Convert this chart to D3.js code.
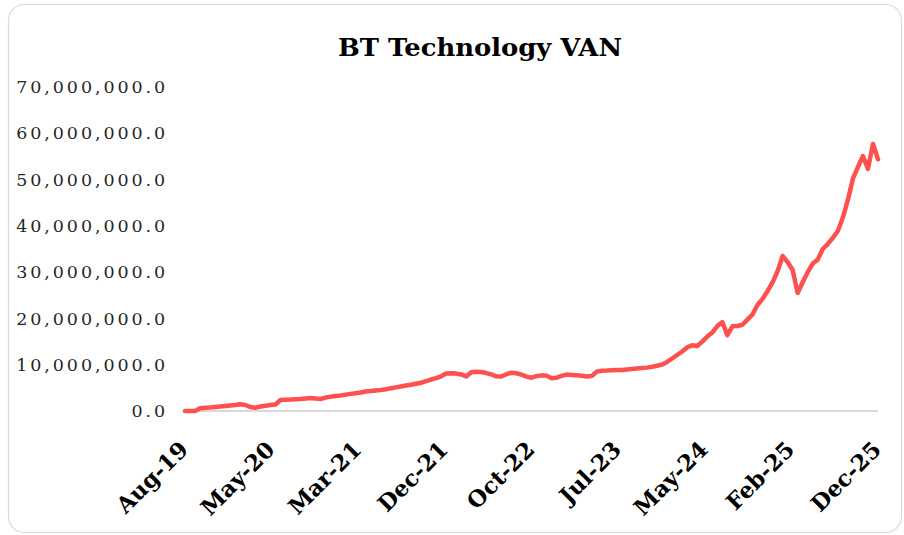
<!DOCTYPE html>
<html>
<head>
<meta charset="utf-8">
<title>BT Technology VAN</title>
<script src="https://cdn.jsdelivr.net/npm/d3@7"></script>
<style>
  body { margin: 0; background: #fff; }
  svg { display: block; }
</style>
</head>
<body>
<svg id="chart" width="904" height="535"></svg>
<script>
  // VAN in millions, one point per equally spaced observation (Aug-19 .. Dec-25)
  const vanMillions = [
    0.0, 0.0, 0.0, 0.6, 0.7, 0.76, 0.86, 0.97, 1.08, 1.2,
    1.3, 1.45, 1.3, 0.86, 0.7, 0.97, 1.15, 1.3, 1.38, 2.38,
    2.44, 2.48, 2.55, 2.6, 2.7, 2.8, 2.7, 2.6, 2.9, 3.1,
    3.24, 3.35, 3.54, 3.7, 3.84, 4.0, 4.2, 4.3, 4.45, 4.54,
    4.7, 4.9, 5.1, 5.3, 5.5, 5.66, 5.87, 6.1, 6.44, 6.8,
    7.1, 7.5, 8.1, 8.16, 8.08, 7.9, 7.47, 8.36, 8.47, 8.42,
    8.2, 7.9, 7.5, 7.45, 7.95, 8.27, 8.16, 7.86, 7.43, 7.2,
    7.54, 7.7, 7.6, 7.08, 7.2, 7.6, 7.86, 7.8, 7.73, 7.6,
    7.45, 7.56, 8.5, 8.7, 8.75, 8.83, 8.86, 8.86, 8.96, 9.07,
    9.18, 9.27, 9.37, 9.55, 9.78, 10.04, 10.6, 11.34, 12.1, 12.85,
    13.74, 14.2, 14.04, 15.0, 16.07, 16.95, 18.36, 19.2, 16.4, 18.3,
    18.36, 18.64, 19.74, 20.84, 22.9, 24.2, 25.9, 27.8, 30.2, 33.5,
    32.2, 30.45, 25.5, 27.8, 30.0, 31.86, 32.7, 35.0, 36.07, 37.4,
    38.9, 41.8, 45.6, 50.2, 52.7, 55.1, 52.3, 57.7, 54.4
  ];
  const xTickLabels = ["Aug-19", "May-20", "Mar-21", "Dec-21", "Oct-22", "Jul-23", "May-24", "Feb-25", "Dec-25"];
  const yTicks = [0, 10000000, 20000000, 30000000, 40000000, 50000000, 60000000, 70000000];

  const van = vanMillions.map(v => v * 1e6);

  const svg = d3.select("#chart");

  // chart area frame
  svg.append("rect")
    .attr("x", 8.5).attr("y", 4.5)
    .attr("width", 893).attr("height", 528)
    .attr("rx", 16)
    .attr("fill", "#fff")
    .attr("stroke", "#d9d9d9")
    .attr("stroke-width", 1.2);

  const x = d3.scaleLinear()
    .domain([0, van.length - 1])
    .range([185, 878]);

  const y = d3.scaleLinear()
    .domain([0, 70000000])
    .range([411, 87]);

  const fmt = d3.format(",.1f");

  svg.append("text")
    .attr("x", 480)
    .attr("y", 56)
    .attr("text-anchor", "middle")
    .attr("textLength", 284)
    .attr("lengthAdjust", "spacingAndGlyphs")
    .style("font-family", "'DejaVu Serif', serif")
    .style("font-weight", "bold")
    .style("font-size", "25px")
    .attr("fill", "#000")
    .text("BT Technology VAN");

  // y axis labels, no line
  const yAxis = svg.append("g")
    .attr("transform", "translate(168,0)")
    .call(d3.axisLeft(y).tickValues(yTicks).tickFormat(fmt).tickSize(0).tickPadding(0));
  yAxis.select(".domain").remove();
  yAxis.selectAll("text")
    .style("font-family", "'DejaVu Serif', serif")
    .style("font-size", "17.5px")
    .style("letter-spacing", "2.9px")
    .attr("fill", "#262626");

  // category axis along the bottom
  const tickPos = xTickLabels.map((d, i) => i * (van.length - 1) / (xTickLabels.length - 1));
  const xAxis = svg.append("g")
    .attr("transform", "translate(0,411)")
    .call(d3.axisBottom(x).tickValues(tickPos).tickFormat((d, i) => xTickLabels[i]).tickSize(0));
  xAxis.select(".domain")
    .attr("stroke", "#d9d9d9")
    .attr("stroke-width", 2)
    .attr("d", `M${x(0) - 2},0H${x(van.length - 1)}`);
  xAxis.selectAll("text")
    .attr("text-anchor", "end")
    .attr("y", 0)
    .attr("dy", 0)
    .attr("transform", "translate(4,40) rotate(-45)")
    .style("font-family", "'DejaVu Serif', serif")
    .style("font-weight", "bold")
    .style("font-size", "22.5px")
    .attr("fill", "#000");

  const line = d3.line()
    .x((d, i) => x(i))
    .y(d => y(d));

  svg.append("path")
    .datum(van)
    .attr("fill", "none")
    .attr("stroke", "#ff5050")
    .attr("stroke-width", 4.5)
    .attr("stroke-linejoin", "round")
    .attr("stroke-linecap", "round")
    .attr("d", line);
</script>
</body>
</html>
